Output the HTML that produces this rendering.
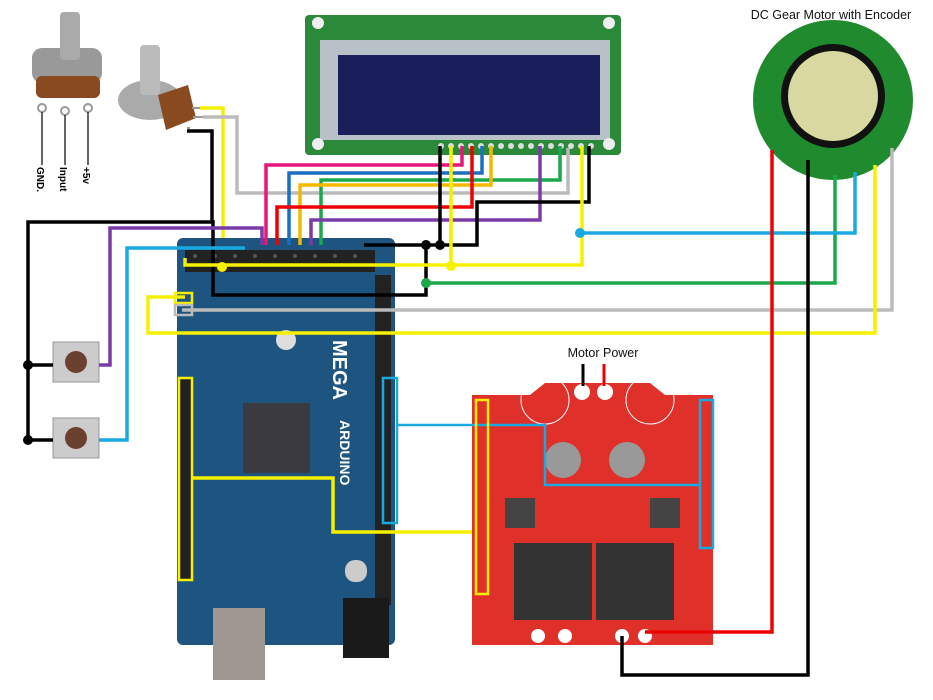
<!DOCTYPE html>
<html><head><meta charset="utf-8"><style>
body{margin:0;background:#fff;width:933px;height:700px;overflow:hidden}
svg{display:block}
text{font-family:"Liberation Sans",sans-serif}
</style></head><body>
<svg width="933" height="700" viewBox="0 0 933 700" xmlns="http://www.w3.org/2000/svg">
<rect width="933" height="700" fill="#fff"/>
<!-- LCD -->
<rect x="305" y="15" width="316" height="140" rx="4" fill="#2a8a3a"/>
<rect x="320" y="40" width="290" height="100" fill="#b8c0c8"/>
<rect x="338" y="55" width="262" height="80" fill="#1a1e5a"/>
<circle cx="318" cy="23" r="6" fill="#eee"/><circle cx="609" cy="23" r="6" fill="#eee"/>
<circle cx="318" cy="144" r="6" fill="#eee"/><circle cx="609" cy="144" r="6" fill="#eee"/>
<g fill="#ddd">
<circle cx="441" cy="146" r="3"/><circle cx="451" cy="146" r="3"/><circle cx="461" cy="146" r="3"/><circle cx="471" cy="146" r="3"/><circle cx="481" cy="146" r="3"/><circle cx="491" cy="146" r="3"/><circle cx="501" cy="146" r="3"/><circle cx="511" cy="146" r="3"/><circle cx="521" cy="146" r="3"/><circle cx="531" cy="146" r="3"/><circle cx="541" cy="146" r="3"/><circle cx="551" cy="146" r="3"/><circle cx="561" cy="146" r="3"/><circle cx="571" cy="146" r="3"/><circle cx="581" cy="146" r="3"/><circle cx="591" cy="146" r="3"/>
</g>
<!-- Motor -->
<text x="831" y="19" font-size="12.5" text-anchor="middle" fill="#111">DC Gear Motor  with Encoder</text>
<circle cx="833" cy="100" r="80" fill="#1f8a2e"/>
<circle cx="833" cy="96" r="52" fill="#111"/>
<circle cx="833" cy="96" r="45" fill="#d8d8a0"/>
<!-- Pot 1 -->
<rect x="32" y="48" width="70" height="35" rx="10" fill="#999"/>
<rect x="60" y="12" width="20" height="48" rx="4" fill="#aaa"/>
<rect x="36" y="76" width="64" height="22" rx="6" fill="#8a4a20"/>
<circle cx="42" cy="108" r="4" fill="none" stroke="#999" stroke-width="2"/>
<circle cx="65" cy="111" r="4" fill="none" stroke="#999" stroke-width="2"/>
<circle cx="88" cy="108" r="4" fill="none" stroke="#999" stroke-width="2"/>
<path d="M42 112V165M65 115V165M88 112V165" stroke="#333" stroke-width="1.5"/>
<text transform="translate(37,167) rotate(90)" font-size="10" font-weight="bold">GND.</text>
<text transform="translate(60,167) rotate(90)" font-size="10" font-weight="bold">Input</text>
<text transform="translate(83,167) rotate(90)" font-size="10" font-weight="bold">+5v</text>
<!-- Pot 2 -->
<ellipse cx="150" cy="100" rx="32" ry="20" fill="#aaa"/>
<rect x="140" y="45" width="20" height="50" rx="4" fill="#bbb"/>
<polygon points="158,95 188,85 196,118 166,130" fill="#8a4a20"/>
<path d="M192 108H203M193 117H205M187 128H190" stroke="#999" stroke-width="2"/>
<!-- Wires from pot -->
<g fill="none" stroke-width="3.5" stroke-linejoin="miter">
<path d="M200 108H223V267" stroke="#f5f000"/>
<path d="M203 117H237V193H568V148" stroke="#bbb"/>
<path d="M187 131H212V222" stroke="#000"/>
</g>
<!-- Arduino -->
<rect x="177" y="238" width="218" height="407" rx="6" fill="#1d5580"/>
<rect x="185" y="250" width="190" height="22" fill="#222"/>
<g fill="#555"><circle cx="195" cy="256" r="2"/><circle cx="215" cy="256" r="2"/><circle cx="235" cy="256" r="2"/><circle cx="255" cy="256" r="2"/><circle cx="275" cy="256" r="2"/><circle cx="295" cy="256" r="2"/><circle cx="315" cy="256" r="2"/><circle cx="335" cy="256" r="2"/><circle cx="355" cy="256" r="2"/></g>
<rect x="375" y="275" width="16" height="330" fill="#222"/>
<rect x="180" y="378" width="12" height="202" fill="#222"/>
<rect x="243" y="403" width="67" height="70" fill="#3a3a40"/>
<circle cx="286" cy="340" r="10" fill="#ddd"/>
<text transform="translate(333,340) rotate(90)" font-size="20" fill="#fff" font-weight="bold">MEGA</text>
<text transform="translate(340,420) rotate(90)" font-size="14" fill="#fff" font-weight="bold">ARDUINO</text>
<rect x="213" y="608" width="52" height="72" fill="#a09890"/>
<rect x="343" y="598" width="46" height="60" fill="#1a1a1a"/>
<rect x="345" y="560" width="22" height="22" rx="10" fill="#ccc"/>
<!-- Shield -->
<path d="M472 395H530L545 383H650L665 395H713V645H472Z" fill="#e0302a"/>
<rect x="514" y="543" width="78" height="77" fill="#333"/>
<rect x="596" y="543" width="78" height="77" fill="#333"/>
<circle cx="545" cy="400" r="24" fill="none" stroke="#fff" stroke-width="1"/>
<circle cx="650" cy="400" r="24" fill="none" stroke="#fff" stroke-width="1"/>
<circle cx="563" cy="460" r="18" fill="#999"/><circle cx="627" cy="460" r="18" fill="#999"/>
<rect x="505" y="498" width="30" height="30" fill="#444"/><rect x="650" y="498" width="30" height="30" fill="#444"/>
<circle cx="582" cy="392" r="8" fill="#fff"/><circle cx="605" cy="392" r="8" fill="#fff"/>
<circle cx="538" cy="636" r="7" fill="#fff"/><circle cx="565" cy="636" r="7" fill="#fff"/>
<circle cx="622" cy="636" r="7" fill="#fff"/><circle cx="645" cy="636" r="7" fill="#fff"/>
<text x="603" y="357" font-size="12.5" text-anchor="middle" fill="#111">Motor  Power</text>
<path d="M583 364V386" stroke="#000" stroke-width="3"/><path d="M604 364V386" stroke="#e00" stroke-width="3"/>
<!-- Buttons -->
<rect x="53" y="342" width="46" height="40" fill="#ccc" stroke="#999"/>
<circle cx="76" cy="362" r="11" fill="#6a4030"/>
<rect x="53" y="418" width="46" height="40" fill="#ccc" stroke="#999"/>
<circle cx="76" cy="438" r="11" fill="#6a4030"/>
<!-- LCD wires -->
<g fill="none" stroke-width="3.5">
<path d="M462 146V165H266V245" stroke="#e8157a"/>
<path d="M482 146V173H289V245" stroke="#1a6fc0"/>
<path d="M560 146V180H321V245" stroke="#1aa84a"/>
<path d="M491 146V185H300V245" stroke="#f5b800"/>
<path d="M472 146V207H277V245" stroke="#e00"/>
<path d="M540 146V220H311V245" stroke="#7a3aa8"/>
<path d="M589 146V202H477V245H364" stroke="#000"/>
<path d="M440 146V245" stroke="#000"/>
<path d="M426 245V295H213V222H28V440H53" stroke="#000"/>
<path d="M28 365H53" stroke="#000"/>
<path d="M451 146V265H185V258" stroke="#f5f000"/>
<path d="M451 265H582V146" stroke="#f5f000"/>
<path d="M426 283H835V175" stroke="#1aa84a"/>
<path d="M580 233H855V172" stroke="#1aa8e0"/>
<path d="M182 310H892V148" stroke="#bbb"/>
<path d="M185 297H148V333H875V165" stroke="#f5f000"/>
<path d="M262 245V228H110V365H99" stroke="#7a3aa8"/>
<path d="M245 248H127V440H99" stroke="#1aa8e0"/>
<path d="M772 150V632H645" stroke="#e00"/>
<path d="M808 160V675H622V636" stroke="#000"/>
<rect x="175" y="293" width="17" height="10" stroke="#f5f000" stroke-width="2.5"/>
<rect x="175" y="305" width="17" height="10" stroke="#bbb" stroke-width="2.5"/>
<rect x="179" y="378" width="13" height="202" stroke="#f5f000" stroke-width="2.5"/>
<path d="M192 478H333V532H472" stroke="#f5f000"/>
<rect x="383" y="378" width="14" height="145" stroke="#1aa8e0" stroke-width="2.5"/>
<path d="M397 425H545V485H700" stroke="#1aa8e0" stroke-width="2.5"/>
<rect x="476" y="400" width="12" height="194" stroke="#f5f000" stroke-width="2.5"/>
<rect x="700" y="400" width="13" height="148" stroke="#1aa8e0" stroke-width="2.5"/>
</g>
<g>
<circle cx="426" cy="245" r="5"/><circle cx="440" cy="245" r="5"/>
<circle cx="451" cy="266" r="5" fill="#f5f000"/><circle cx="222" cy="267" r="5" fill="#f5f000"/>
<circle cx="426" cy="283" r="5" fill="#1aa84a"/><circle cx="580" cy="233" r="5" fill="#1aa8e0"/>
<circle cx="28" cy="365" r="5"/><circle cx="28" cy="440" r="5"/>
</g>
</svg>
</body></html>
